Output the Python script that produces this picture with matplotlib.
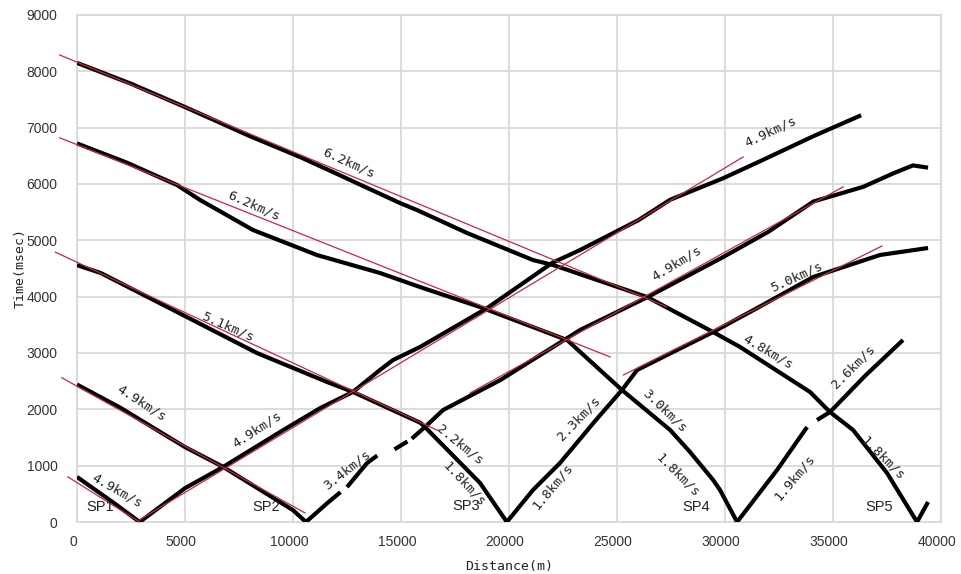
import numpy as np
import matplotlib
matplotlib.use("Agg")
import matplotlib.pyplot as plt
from matplotlib.transforms import ScaledTranslation

nan = np.nan

# ---- travel-time curves (distance m, time msec) ----
sp1_rev_x = [0, 1700, 2900]
sp1_rev_t = [800, 340, 0]
sp1_fwd_x = [2900, 5000, 6760, 9540, 11250, 12780, 14030, 14630, 15880, 19000, 22000,
             23300, 26000, 27460, 29900, 31600, 34100, 36300]
sp1_fwd_t = [0, 600, 976, 1630, 2020, 2310, 2700, 2875, 3106, 3800, 4600,
             4830, 5360, 5720, 6100, 6400, 6850, 7220]

sp2_rev_x = [0, 2000, 5000, 6760, 10000, 10600]
sp2_rev_t = [2440, 2030, 1330, 980, 210, 0]
sp2_fwd_x = [10600, 11600, 12200, nan, 12500, 13430, 13900, nan, 14700, 15300, nan,
             15500, 16110, 16950, 19600, 23300, 26400, 29900, 32000, 34100, 36400,
             37800, 38700, 39400]
sp2_fwd_t = [0, 340, 530, nan, 620, 1047, 1180, nan, 1290, 1430, nan,
             1480, 1686, 1988, 2520, 3410, 3990, 4700, 5150, 5690, 5950,
             6190, 6330, 6290]

sp3_rev_x = [0, 1100, 4630, 8330, 11580, 12780, 15900, 16110, 18660, 19900]
sp3_rev_t = [4560, 4420, 3728, 3000, 2485, 2308, 1760, 1686, 692, 0]
sp3_fwd_x = [19900, 21110, 22360, 24000, 25230, 25930, 27500, 29450, 31500, 34080,
             37180, 39400]
sp3_fwd_t = [0, 568, 1047, 1800, 2343, 2698, 3000, 3372, 3800, 4349, 4740, 4864]

sp4_rev_x = [0, 2300, 4630, 5700, 8150, 11110, 14030, 15880, 18660, 22690, 25230,
             27460, 28380, 29450, 29770, 30560]
sp4_rev_t = [6720, 6380, 5982, 5716, 5183, 4739, 4420, 4171, 3816, 3230, 2343,
             1633, 1243, 746, 568, 0]
sp4_fwd_x = [30560, 32410, 33800, nan, 34260, 34860, 36500, 38240]
sp4_fwd_t = [0, 923, 1686, nan, 1810, 1952, 2600, 3230]

sp5_rev_x = [0, 2500, 5000, 8000, 10325, 11850, 14950, 15740, 18060, 21110, 22040,
             26390, 29450, 30700, 33940, 34860, 35930, 37500, 38890]
sp5_rev_t = [8150, 7780, 7366, 6850, 6479, 6212, 5662, 5538, 5130, 4650, 4562,
             3994, 3372, 3106, 2307, 1952, 1633, 870, 0]
sp5_fwd_x = [38890, 39400]
sp5_fwd_t = [0, 355]

# ---- fitted straight lines (red) ----
red_x0 = [-420, 2900, -700, -1000, -800, -800, 18200, 25300]
red_t0 = [800, 40, 2560, 4790, 6820, 8290, 2290, 2610]
red_x1 = [2900, 30840, 10560, 16670, 24680, 27300, 35470, 37270]
red_t1 = [0, 6480, 160, 1630, 2930, 3820, 5950, 4900]

# ---- velocity annotations ----
vel_text = ["4.9km/s", "4.9km/s", "4.9km/s", "5.1km/s", "6.2km/s", "6.2km/s",
            "2.2km/s", "1.8km/s", "3.4km/s", "1.8km/s", "2.3km/s", "3.0km/s",
            "1.8km/s", "1.9km/s", "1.8km/s", "2.6km/s", "4.8km/s", "5.0km/s",
            "4.9km/s", "4.9km/s"]
vel_x = [1850, 3010, 8330, 6990, 12590, 8200, 17730, 17920, 12500, 22040, 23240,
         27220, 27830, 33240, 37320, 35930, 31990, 33330, 27780, 32130]
vel_t = [550, 2110, 1633, 3461, 6372, 5620, 1367, 674, 923, 639, 1846, 1970,
         834, 799, 1136, 2751, 3017, 4349, 4597, 6923]
vel_rot = [-30, -33, 33, -24, -24.5, -24, -39, -47, 38, 50, 46, -44,
           -45, 50, -45, 45, -30.5, 24.5, 31, 25]

sp_labels = ["SP1", "SP2", "SP3", "SP4", "SP5"]
sp_x = [1065, 8770, 18010, 28660, 37130]
sp_t = [266, 266, 284, 266, 266]

x_ticks = [0, 5000, 10000, 15000, 20000, 25000, 30000, 35000, 40000]
y_ticks = [0, 1000, 2000, 3000, 4000, 5000, 6000, 7000, 8000, 9000]

tick_font = ["Liberation Sans Narrow", "Liberation Sans", "DejaVu Sans"]

fig = plt.figure(figsize=(9.62, 5.74), dpi=100)
ax = fig.add_axes([77 / 962, 1 - 522 / 574, (941 - 77) / 962, (522 - 15) / 574])
ax.set_xlim(0, 40000)
ax.set_ylim(0, 9000)
ax.set_xticks(x_ticks)
ax.set_yticks(y_ticks)
ax.grid(True, color="#d9d9d9", lw=1.3)
ax.set_axisbelow(True)
for s in ax.spines.values():
    s.set_color("#d9d9d9")
    s.set_linewidth(1.3)
ax.tick_params(axis="both", length=0, labelsize=10, labelcolor="#333333")
ax.tick_params(axis="y", pad=14)
ax.tick_params(axis="x", pad=9)
ax.set_xticklabels([str(v) for v in x_ticks], family=tick_font)
ax.set_yticklabels([str(v) for v in y_ticks], family=tick_font)
off = ScaledTranslation(-4 / 100, 0, fig.dpi_scale_trans)
for lab in ax.get_xticklabels():
    lab.set_transform(lab.get_transform() + off)

curves = [(sp1_rev_x, sp1_rev_t), (sp1_fwd_x, sp1_fwd_t), (sp2_rev_x, sp2_rev_t),
          (sp2_fwd_x, sp2_fwd_t), (sp3_rev_x, sp3_rev_t), (sp3_fwd_x, sp3_fwd_t),
          (sp4_rev_x, sp4_rev_t), (sp4_fwd_x, sp4_fwd_t), (sp5_rev_x, sp5_rev_t),
          (sp5_fwd_x, sp5_fwd_t)]
for cx, ct in curves:
    ax.plot(cx, ct, color="black", lw=3.0, solid_joinstyle="round",
            solid_capstyle="butt", zorder=3)

for i in range(len(red_x0)):
    ax.plot([red_x0[i], red_x1[i]], [red_t0[i], red_t1[i]], color="#c8283c",
            lw=0.9, zorder=4, clip_on=False)

for s, x, t, r in zip(vel_text, vel_x, vel_t, vel_rot):
    ax.text(x, t, s, rotation=r, rotation_mode="anchor", ha="center", va="center",
            family="DejaVu Sans Mono", fontsize=9.5, color="#222222", zorder=5)

for s, x, t in zip(sp_labels, sp_x, sp_t):
    ax.text(x, t, s, ha="center", va="center", family=tick_font, fontsize=10.5,
            color="#222222", zorder=5)

ax.set_xlabel("Distance(m)", family="DejaVu Sans Mono", fontsize=9.5,
              color="#222222", labelpad=8)
ax.set_ylabel("Time(msec)", family="DejaVu Sans Mono", fontsize=9.5,
              color="#222222", labelpad=0)

fig.savefig("out.png", dpi=100)
